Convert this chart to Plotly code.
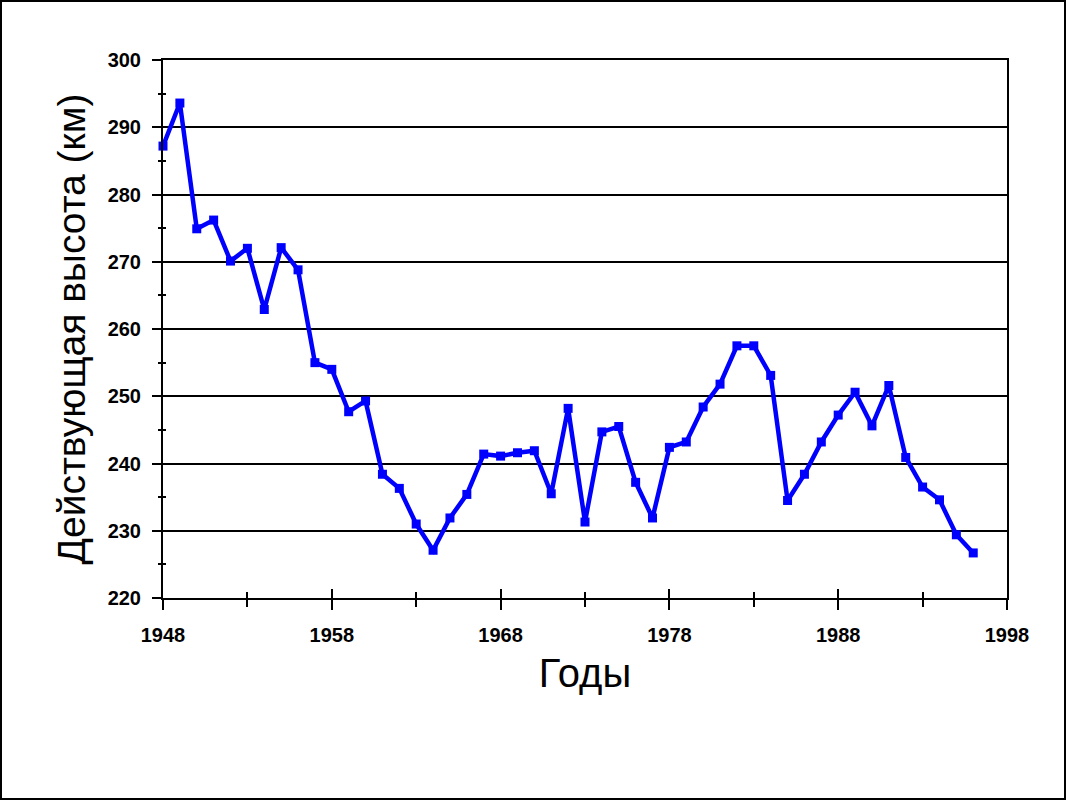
import plotly.graph_objects as go

years = list(range(1948, 1997))
heights = [287.2, 293.6, 274.9, 276.2, 270.1, 272.0, 262.9, 272.1, 268.8, 255.0,
           254.0, 247.7, 249.3, 238.4, 236.3, 231.0, 227.1, 231.9, 235.4, 241.4,
           241.1, 241.6, 241.9, 235.5, 248.2, 231.3, 244.7, 245.5, 237.2, 231.9,
           242.4, 243.2, 248.4, 251.8, 257.5, 257.5, 253.1, 234.5, 238.4, 243.2,
           247.2, 250.6, 245.6, 251.6, 240.9, 236.5, 234.6, 229.4, 226.7]

x_title = "Годы"
y_title = "Действующая высота (км)"

W, H = 1067, 801
L, R, T, B = 163, 60, 60, 203
pw, ph = W - L - R, H - T - B

font_family = "Liberation Sans, Arial, sans-serif"

fig = go.Figure()
fig.add_trace(go.Scatter(
    x=years, y=heights, mode="lines+markers",
    line=dict(color="#0000FF", width=4.5),
    marker=dict(symbol="square", size=9, color="#0000FF"),
    showlegend=False, cliponaxis=False,
))

tick_font = dict(family=font_family, size=20, color="black", weight="bold")

fig.update_layout(
    width=W, height=H,
    margin=dict(l=L, r=R, t=T, b=B),
    paper_bgcolor="white", plot_bgcolor="white",
    xaxis=dict(
        range=[1948, 1998], tick0=1948, dtick=10,
        ticks="outside", ticklen=10, tickwidth=2, tickcolor="black",
        minor=dict(dtick=5, tick0=1948, ticks="outside", ticklen=7, tickwidth=2,
                   tickcolor="black", showgrid=False),
        showgrid=False, zeroline=False,
        showline=True, linecolor="black", linewidth=2, mirror=True,
        tickfont=tick_font, ticklabelstandoff=8,
        title=dict(text=x_title, font=dict(family=font_family, size=40, color="black"), standoff=14),
    ),
    xaxis2=dict(
        range=[1948, 1998], tick0=1948, dtick=10, overlaying="x", anchor="y",
        ticks="inside", ticklen=9, tickwidth=2, tickcolor="black",
        minor=dict(dtick=5, tick0=1948, ticks="inside", ticklen=6, tickwidth=2,
                   tickcolor="black", showgrid=False),
        showticklabels=False, showgrid=False, zeroline=False, showline=False,
    ),
    yaxis=dict(
        range=[220, 300], tick0=220, dtick=10,
        ticks="outside", ticklen=9, tickwidth=2, tickcolor="black",
        minor=dict(dtick=5, tick0=220, ticks="outside", ticklen=3, tickwidth=2,
                   tickcolor="black", showgrid=False),
        showgrid=True, gridcolor="black", gridwidth=1.5, zeroline=False,
        showline=True, linecolor="black", linewidth=2, mirror=True,
        tickfont=tick_font, ticklabelstandoff=7,
        title=dict(text=y_title, font=dict(family=font_family, size=39, color="black"), standoff=10),
    ),
    yaxis2=dict(
        range=[220, 300], tick0=220, dtick=10, overlaying="y", anchor="x",
        ticks="", showticklabels=False,
        minor=dict(dtick=5, tick0=220, ticks="inside", ticklen=3, tickwidth=2,
                   tickcolor="black", showgrid=False),
        showgrid=False, zeroline=False, showline=False,
    ),
    shapes=[dict(
        type="rect", xref="paper", yref="paper",
        x0=(1 - L) / pw, x1=(W - 2 - L) / pw,
        y0=(T + ph - (H - 2)) / ph, y1=(T + ph - 1) / ph,
        line=dict(color="black", width=2), fillcolor="rgba(0,0,0,0)", layer="above",
    )],
)

fig.add_trace(go.Scatter(x=[1948], y=[220], xaxis="x2", yaxis="y2", mode="markers",
                         marker=dict(opacity=0), showlegend=False, hoverinfo="skip"))

fig.write_html("out.html", config={"displayModeBar": False},
               post_script="document.body.style.margin='0px';")
